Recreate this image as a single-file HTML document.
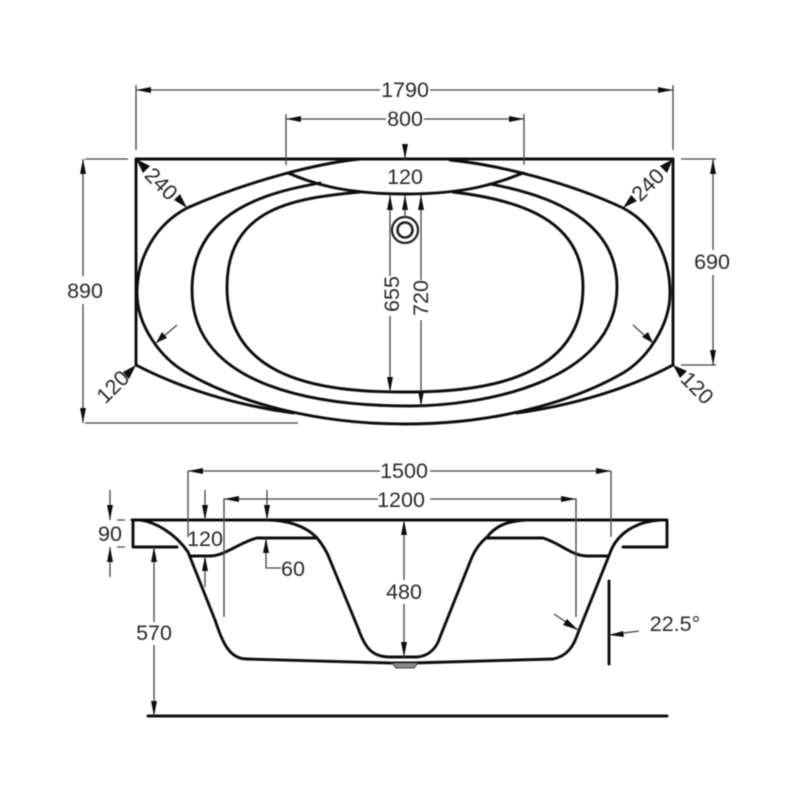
<!DOCTYPE html>
<html>
<head>
<meta charset="utf-8">
<style>
html,body{margin:0;padding:0;background:#fff;width:800px;height:800px;overflow:hidden}
svg{display:block}
text{font-family:"Liberation Sans",sans-serif;font-size:21.5px;fill:#2a2a2a;text-anchor:middle}
.k{fill:none;stroke:#0c0c0c;stroke-width:2.9;stroke-linejoin:round;stroke-linecap:round}
.d{fill:none;stroke:#444;stroke-width:1.3}
.a{fill:#111;stroke:none}
</style>
</head>
<body>
<svg width="800" height="800" viewBox="0 0 800 800" xmlns="http://www.w3.org/2000/svg">
<defs>
<filter id="b" x="-2%" y="-2%" width="104%" height="104%"><feGaussianBlur stdDeviation="0.45"/></filter>
</defs>
<g filter="url(#b)">
<!-- top view: body -->
<path class="k" d="M136 159H673V365M136 159V365"/>
<path class="k" d="M360 159C320 163 250 180 187 208C155 225 137 258 137 293C137 325 160 358 187 373C225 395 300 424 405 424C510 424 585 395 623 373C648 358 670 325 670 293C670 258 655 225 623 208C570 183 500 165 450 160"/>
<path class="k" d="M136 365C180 388 235 405 293 413M673 365C630 388 575 405 517 413"/>
<path class="k" d="M288 173C310 182 340 194 405 194C470 194 500 182 523 173"/>
<path class="k" d="M320 183C270 192 192 210 192 290C192 390 325 406 410 406C475 406 617 385 617 287C617 220 550 195 490 184"/>
<path class="k" d="M360 192C300 198 227 205 227 287C227 385 335 392 405 392C470 392 583 385 583 287C583 220 520 200 453 192"/>
<circle cx="405" cy="230" r="13" fill="none" stroke="#222" stroke-width="2.2"/>
<circle cx="405" cy="230" r="7.5" fill="none" stroke="#222" stroke-width="2.6"/>
<!-- top view: dimensions -->
<path class="d" d="M136 85V150M673 85V150M136 90H380M430 90H673"/>
<path class="a" d="M136 90l15-3v6zM673 90l-15-3v6z"/>
<path class="d" d="M286 114V165M524 114V165M286 119H386M424 119H524"/>
<path class="a" d="M286 119l15-3v6zM524 119l-15-3v6z"/>
<path class="d" d="M405 144V160M405 195V218M390 195V276M390 316V392M421 195V280M421 320V406"/>
<path class="a" d="M405 159l-3-15h6zM405 195l-3 15h6zM390 195l-3 15h6zM421 195l-3 15h6zM390 392l-3-15h6zM421 406l-3-15h6z"/>
<path class="d" d="M85 159H128M83 159V276M83 304V423M85 423H298M681 159H716M713 159V250M713 275V365M681 365H716"/>
<path class="a" d="M83 159l-3 15h6zM83 423l-3-15h6zM713 159l-3 15h6zM713 365l-3-15h6z"/>
<!-- diagonal arrows -->
<path class="a" d="M136 159l14 7-7 7zM187 208l-13-8 6-6zM136 365l-7 14-6-7zM673 159l-6 14-7-7zM623 208l8-13 6 6zM673 365l14 6-7 7z"/>
<path class="d" d="M177 325L156 343M633 325L653 343"/>
<path class="a" d="M156 343l6-11 5 6zM653 343l-11-6 6-5z"/>
<!-- side view: body -->
<path class="k" d="M132 520H667V547H623M133 520V547H177"/>
<path class="k" d="M140 520C155 522 175 533 188 552L215 620C222 640 228 659 247 659L390 663M392 663H418M413 663L553 659C568 656 574 645 578 633L612 548C618 536 632 522 660 520"/>
<path class="k" d="M267 520C285 520 305 525 317 538C323 545 327 552 330 560L358 628C365 648 372 657 390 657H417C430 656 437 647 440 637L472 557C476 548 481 542 487 537C495 527 505 521 527 520"/>
<path class="k" d="M190 556H210C225 556 240 542 257 538H317M487 538H543C560 543 572 556 587 556H608"/>
<path fill="#888" stroke="#333" stroke-width="1" d="M392 663H418L414 668H396Z"/>
<path class="k" d="M609 581V664M148 716H667"/>
<!-- side view: dimensions -->
<path class="d" d="M188 471H380M430 471H611M188 471V537M611 471V537"/>
<path class="a" d="M188 471l15-3v6zM611 471l-15-3v6z"/>
<path class="d" d="M224 617V499H378M430 499H576V617"/>
<path class="a" d="M224 499l15-3v6zM576 499l-15-3v6z"/>
<path class="d" d="M110 490V520M110 547V577M117 520H125M117 547H125M205 490V520M205 556V587M267 490V520M266 538V568H281M154 547V622M154 645V716M404 520V580M404 604V657"/>
<path class="a" d="M110 520l-3-15h6zM110 547l-3 15h6zM205 520l-3-15h6zM205 556l-3 15h6zM267 520l-3-15h6zM266 538l-3 15h6zM154 547l-3 15h6zM154 716l-3-15h6zM404 520l-3 15h6zM404 657l-3-15h6z"/>
<path class="d" d="M554 614L578 630M639 631L609 635"/>
<path class="a" d="M578 630l-15-5 4-6zM609 635l14-4 1 6z"/>
<!-- labels -->
<text x="405" y="97">1790</text>
<text x="405" y="126">800</text>
<text x="405" y="184">120</text>
<text x="0" y="0" transform="translate(399,294) rotate(-90)">655</text>
<text x="0" y="0" transform="translate(428,298) rotate(-90)">720</text>
<text x="85" y="298">890</text>
<text x="712" y="269">690</text>
<text x="0" y="0" transform="translate(156,189) rotate(45)">240</text>
<text x="0" y="0" transform="translate(653,190) rotate(-45)">240</text>
<text x="0" y="0" transform="translate(118,392) rotate(-45)">120</text>
<text x="0" y="0" transform="translate(692,393) rotate(45)">120</text>
<text x="404" y="478">1500</text>
<text x="401" y="507">1200</text>
<text x="110" y="541">90</text>
<text x="205" y="546">120</text>
<text x="293" y="576">60</text>
<text x="404" y="599">480</text>
<text x="154" y="640">570</text>
<text x="675" y="631">22.5°</text>
</g>
</svg>
</body>
</html>
